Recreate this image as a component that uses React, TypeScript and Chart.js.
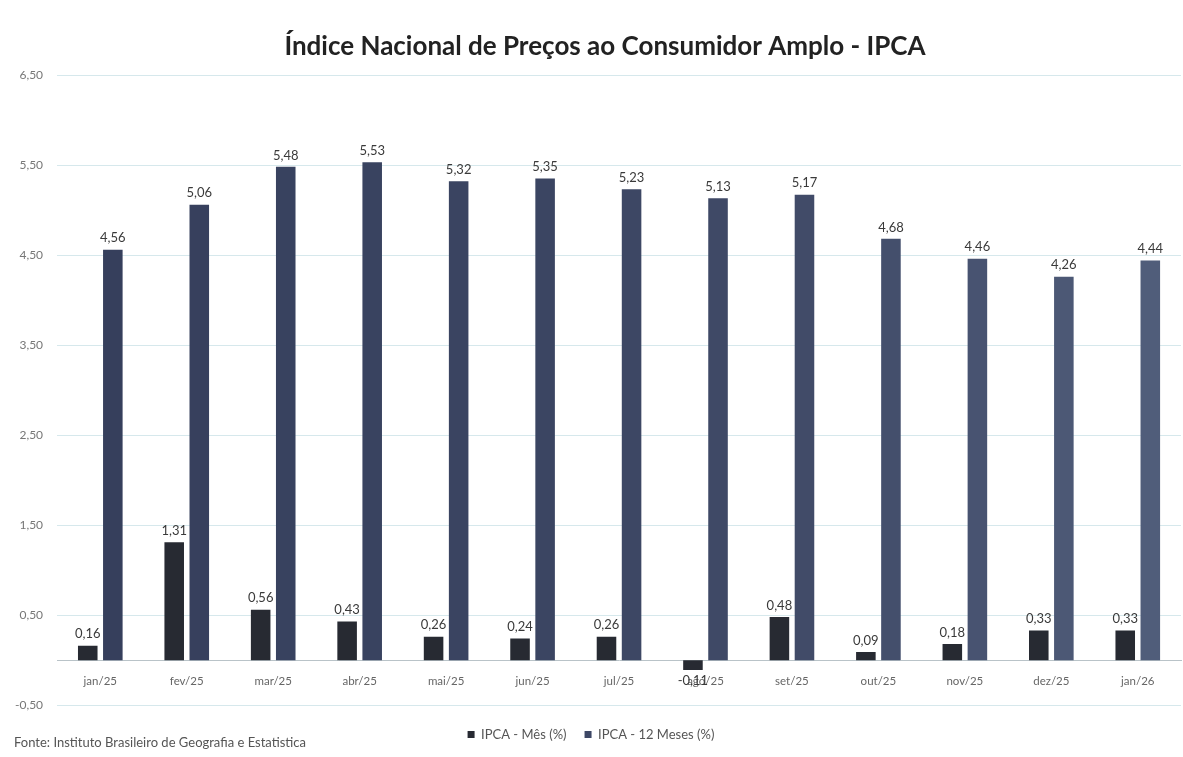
import React, { useEffect, useRef } from "react";
import { Chart, registerables } from "chart.js";

Chart.register(...registerables);

const categories = ["jan/25", "fev/25", "mar/25", "abr/25", "mai/25", "jun/25", "jul/25", "ago/25", "set/25", "out/25", "nov/25", "dez/25", "jan/26"];
const ipcaMes = [0.16, 1.31, 0.56, 0.43, 0.26, 0.24, 0.26, -0.11, 0.48, 0.09, 0.18, 0.33, 0.33];
const ipca12Meses = [4.56, 5.06, 5.48, 5.53, 5.32, 5.35, 5.23, 5.13, 5.17, 4.68, 4.46, 4.26, 4.44];
const titleText = "Índice Nacional de Preços ao Consumidor Amplo - IPCA";
const sourceText = "Fonte: Instituto Brasileiro de Geografia e Estatistica";

const blueShades = ["#363f5c", "#37405d", "#38425f", "#394360", "#3a4461", "#3b4562", "#3d4764", "#3f4966", "#414b68", "#444f6c", "#485371", "#4c5875", "#505d7a"];

const fmt = (v: number) => v.toFixed(2).replace(".", ",");

const valueLabels = {
  id: "valueLabels",
  afterDatasetsDraw(chart: any) {
    const ctx = chart.ctx;
    ctx.save();
    ctx.font = "13px Lato";
    ctx.fillStyle = "#3a3a3a";
    ctx.textAlign = "center";
    chart.data.datasets.forEach((ds: any, i: number) => {
      const meta = chart.getDatasetMeta(i);
      meta.data.forEach((el: any, j: number) => {
        const v = ds.data[j];
        if (v >= 0) {
          ctx.textBaseline = "bottom";
          ctx.fillText(fmt(v), el.x, el.y - 5);
        } else {
          ctx.textBaseline = "top";
          ctx.fillText(fmt(v), el.x, el.y + 4);
        }
      });
    });
    ctx.restore();
  },
};

const titleAndFooter = {
  id: "titleAndFooter",
  afterDraw(chart: any) {
    const ctx = chart.ctx;
    ctx.save();
    ctx.font = "bold 26px Lato";
    ctx.fillStyle = "#222";
    ctx.textAlign = "center";
    ctx.textBaseline = "middle";
    ctx.fillText(titleText, 605, 47);
    ctx.font = "13px Lato";
    ctx.fillStyle = "#555";
    ctx.textAlign = "left";
    ctx.fillText(sourceText, 14, 743);
    ctx.restore();
  },
};

export default function App() {
  const ref = useRef<HTMLCanvasElement | null>(null);
  useEffect(() => {
    if (!ref.current) return;
    const chart = new Chart(ref.current, {
      type: "bar",
      data: {
        labels: categories,
        datasets: [
          {
            label: "IPCA - Mês (%)",
            data: ipcaMes,
            backgroundColor: "#272a32",
            categoryPercentage: 0.58,
            barPercentage: 0.78,
          },
          {
            label: "IPCA - 12 Meses (%)",
            data: ipca12Meses,
            backgroundColor: blueShades,
            categoryPercentage: 0.58,
            barPercentage: 0.78,
          },
        ],
      },
      plugins: [valueLabels, titleAndFooter],
      options: {
        animation: false,
        responsive: false,
        maintainAspectRatio: false,
        layout: { padding: { left: 1, right: 2, top: 75, bottom: 6 } },
        plugins: {
          title: { display: false },
          legend: {
            position: "bottom",
            title: { display: true, text: " ", padding: 0, font: { family: "Lato", size: 4 } },
            labels: {
              color: "#555",
              font: { family: "Lato", size: 13 },
              boxWidth: 7,
              boxHeight: 7,
              padding: 18,
              generateLabels: (chart: any) => {
                const items = Chart.defaults.plugins.legend.labels.generateLabels(chart);
                items[1].fillStyle = "#3d4765";
                return items;
              },
            },
          },
          tooltip: { enabled: false },
        },
        scales: {
          x: {
            position: { y: 0 } as any,
            grid: { display: false },
            border: { display: true, color: "#b9c3c8", width: 1 },
            ticks: { color: "#666", font: { family: "Lato", size: 11.5 }, padding: 6, maxRotation: 0 },
          },
          y: {
            min: -0.5,
            max: 6.5,
            ticks: {
              stepSize: 1,
              color: "#777",
              font: { family: "Lato", size: 12 },
              padding: 14,
              callback: (v: any) => fmt(Number(v)),
            },
            grid: { color: "#d6e8ec", drawTicks: false },
            border: { display: false },
          },
        },
      },
    });
    return () => chart.destroy();
  }, []);
  return (
    <div style={{ position: "fixed", left: 0, top: 0, width: 1183, height: 757, background: "#fff" }}>
      <canvas ref={ref} width={1183} height={757} style={{ width: 1183, height: 757 }} />
    </div>
  );
}
